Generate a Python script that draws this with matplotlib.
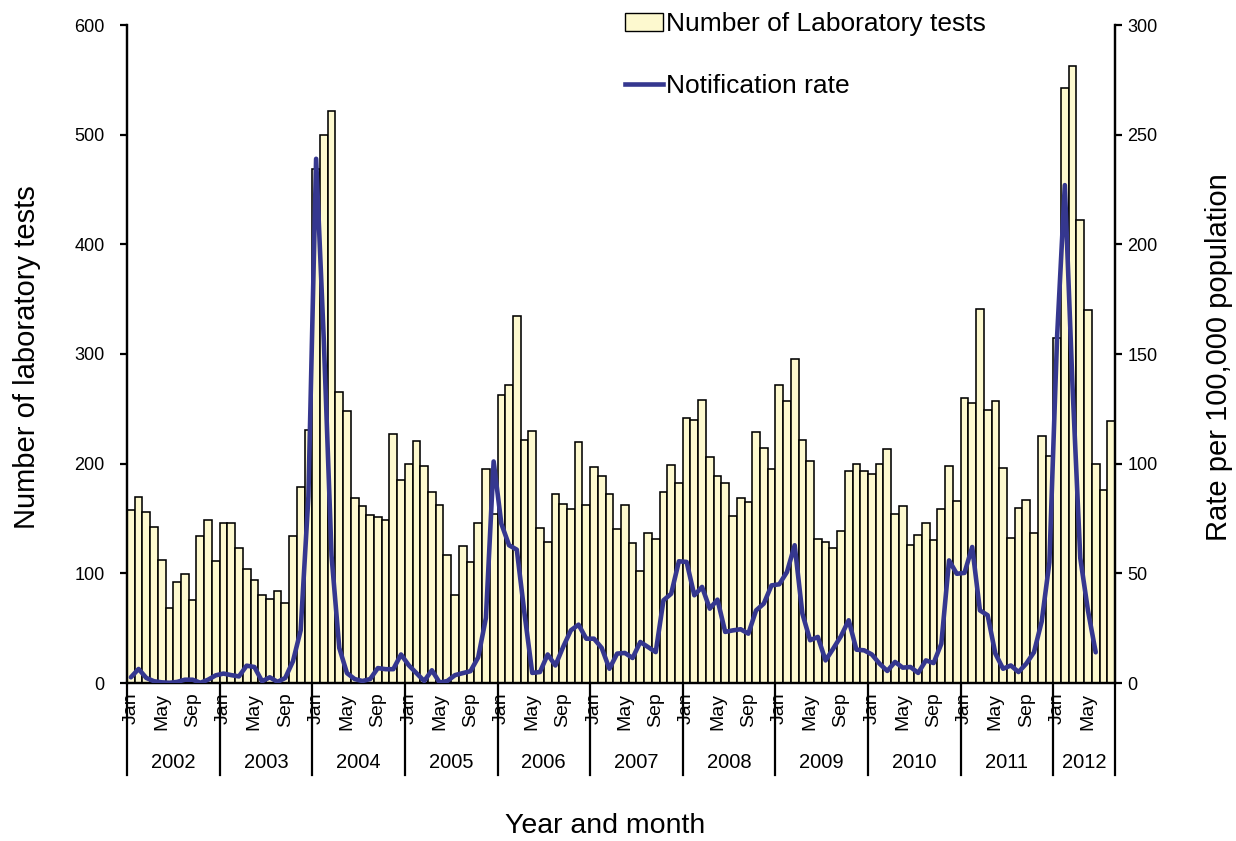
import numpy as np
import matplotlib
matplotlib.use("Agg")
import matplotlib.pyplot as plt
from matplotlib.lines import Line2D
from matplotlib.patches import Patch

plt.rcParams['font.family'] = ['Liberation Sans', 'DejaVu Sans']

# ---------------- data ----------------
years = ['2002', '2003', '2004', '2005', '2006', '2007', '2008', '2009', '2010', '2011', '2012']
month_names = ['Jan', 'Feb', 'Mar', 'Apr', 'May', 'Jun', 'Jul', 'Aug', 'Sep', 'Oct', 'Nov', 'Dec']
months_per_year = [12, 12, 12, 12, 12, 12, 12, 12, 12, 12, 8]
shown_months = ['Jan', 'May', 'Sep']

tests_2002 = [158, 170, 156, 142, 112, 68, 92, 99, 76, 134, 149, 111]
tests_2003 = [146, 146, 123, 104, 94, 80, 77, 84, 73, 134, 179, 231]
tests_2004 = [469, 500, 522, 265, 248, 169, 161, 153, 151, 149, 227, 185]
tests_2005 = [200, 221, 198, 174, 162, 117, 80, 125, 110, 146, 195, 154]
tests_2006 = [263, 272, 335, 222, 230, 141, 129, 172, 163, 159, 220, 162]
tests_2007 = [197, 189, 172, 140, 162, 128, 102, 137, 131, 174, 199, 182]
tests_2008 = [242, 240, 258, 206, 189, 182, 152, 169, 165, 229, 214, 195]
tests_2009 = [272, 257, 295, 222, 202, 131, 129, 123, 139, 193, 200, 193]
tests_2010 = [191, 200, 213, 154, 161, 126, 135, 146, 130, 159, 198, 166]
tests_2011 = [260, 255, 341, 249, 257, 196, 132, 160, 167, 137, 225, 207]
tests_2012 = [315, 543, 563, 422, 340, 200, 176, 239]

rate_2002 = [2.6, 6.4, 2.3, 0.8, 0.3, 0.1, 0.5, 1.5, 1.5, 0.1, 1.5, 3.5]
rate_2003 = [4.3, 3.6, 3.0, 7.9, 7.3, 0.8, 2.6, 0.5, 2.3, 9.9, 24, 85]
rate_2004 = [239, 156, 58, 16, 4.5, 1.8, 0.9, 1.8, 6.8, 6.3, 6.3, 13]
rate_2005 = [8.1, 4.5, 0.9, 5.8, 0.2, 0.9, 3.6, 4.5, 5.4, 11.7, 29.7, 101]
rate_2006 = [72.6, 62.8, 60.8, 31.6, 4.6, 5.0, 13, 8.0, 16.4, 24, 26.6, 20.2]
rate_2007 = [20.2, 16, 6.5, 13.4, 13.7, 11.4, 18.7, 16.4, 14.1, 37.7, 40.7, 55.5]
rate_2008 = [55.2, 40, 43.8, 33.9, 38, 23.3, 24, 24.5, 22.5, 33.1, 36.2, 44.5]
rate_2009 = [45, 50.6, 62.8, 31.6, 19.5, 21, 10.3, 15.7, 21.4, 28.6, 15.2, 14.9]
rate_2010 = [13, 8.8, 5.5, 9.6, 7.0, 7.3, 4.6, 10.3, 9.1, 17.9, 55.9, 49.8]
rate_2011 = [50.2, 62, 33.1, 30.9, 13.4, 6.5, 8.0, 5.0, 8.8, 14, 28, 55]
rate_2012 = [158, 227, 135, 57, 33, 14, np.nan, np.nan]

tests = (tests_2002 + tests_2003 + tests_2004 + tests_2005 + tests_2006 + tests_2007 +
         tests_2008 + tests_2009 + tests_2010 + tests_2011 + tests_2012)
rates = (rate_2002 + rate_2003 + rate_2004 + rate_2005 + rate_2006 + rate_2007 +
         rate_2008 + rate_2009 + rate_2010 + rate_2011 + rate_2012)

# month labels for every bar
month_labels = []
for n in months_per_year:
    month_labels += month_names[:n]

# ---------------- figure ----------------
W, H = 1236, 841
fig = plt.figure(figsize=(W / 100, H / 100), dpi=100)
L, R, T, B = 127, 1115, 25, 683
ax = fig.add_axes([L / W, 1 - B / H, (R - L) / W, (B - T) / H])
ax2 = ax.twinx()

x = np.arange(len(tests))
bar_color = '#FDF9CF'
line_color = '#35378F'

ax.bar(x, tests, width=1.0, color=bar_color, edgecolor='black', linewidth=1.15, zorder=2)
ax2.plot(x, rates, color=line_color, linewidth=3.3, solid_joinstyle='round',
         solid_capstyle='round', zorder=3)

ax.set_xlim(-0.5, len(tests) - 0.5)
ax.set_ylim(0, 600)
ax2.set_ylim(0, 300)
ax.set_yticks(np.arange(0, 601, 100))
ax2.set_yticks(np.arange(0, 301, 50))

for a in (ax, ax2):
    a.spines['top'].set_visible(False)
    for s in ('left', 'right', 'bottom'):
        a.spines[s].set_linewidth(1.6)
ax.tick_params(axis='y', direction='out', length=5, width=1.6, labelsize=13, pad=11)
ax2.tick_params(axis='y', direction='out', length=5, width=1.6, labelsize=13, pad=4)

# month tick labels (Jan, May, Sep)
tick_pos = [i for i, m in enumerate(month_labels) if m in shown_months]
tick_lab = [month_labels[i] for i in tick_pos]
ax.set_xticks(tick_pos)
ax.set_xticklabels(tick_lab, rotation=90, fontsize=14, va='top', ha='center')
ax.tick_params(axis='x', length=0, pad=7)

# year separators and labels
trans = ax.get_xaxis_transform()
start = 0
sep_bottom = -(775 - B) / (B - T)
for yr, n in zip(years, months_per_year):
    ax.add_line(Line2D([start - 0.5, start - 0.5], [0, sep_bottom], transform=trans,
                       color='black', linewidth=1.6, clip_on=False))
    ax.text(start + n / 2 - 0.5, -(762 - B) / (B - T), yr, transform=trans,
            ha='center', va='center', fontsize=14.5)
    start += n
ax.add_line(Line2D([start - 0.5, start - 0.5], [0, sep_bottom], transform=trans,
                   color='black', linewidth=1.6, clip_on=False))

# axis titles
fig.text(27 / W, 1 - 357 / H, 'Number of laboratory tests', rotation=90,
         ha='center', va='center', fontsize=21)
fig.text(1219 / W, 1 - 357 / H, 'Rate per 100,000 population', rotation=90,
         ha='center', va='center', fontsize=21)
fig.text(605 / W, 1 - 826 / H, 'Year and month', ha='center', va='center', fontsize=20.5)

# legend
handles = [Patch(facecolor=bar_color, edgecolor='black', linewidth=1.0),
           Line2D([0], [0], color=line_color, linewidth=3.3)]
labels = ['Number of Laboratory tests', 'Notification rate']
fig.legend(handles, labels, loc='upper left', bbox_to_anchor=(625 / W, 1 - 12 / H),
           frameon=False, fontsize=19, handlelength=1.45, handletextpad=0.1,
           labelspacing=1.45, borderpad=0, borderaxespad=0)

fig.savefig('out.png', dpi=100)
